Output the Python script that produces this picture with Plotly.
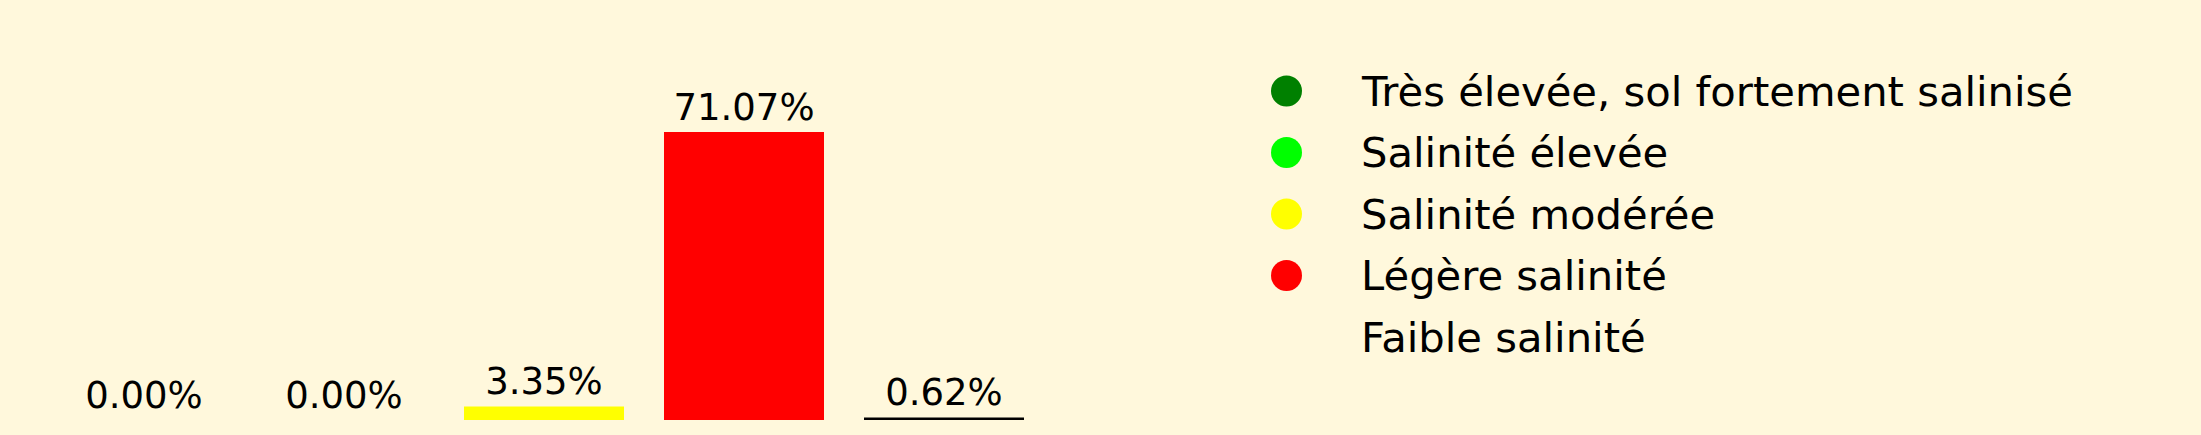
import plotly.graph_objects as go

# ---- data ----
categories = [
    "Très élevée, sol fortement salinisé",
    "Salinité élevée",
    "Salinité modérée",
    "Légère salinité",
    "Faible salinité",
]
values = [0.00, 0.00, 3.35, 71.07, 0.62]
bar_colors = ["#008000", "#00ff00", "#ffff00", "#ff0000", "#000000"]
legend_colors = ["#008000", "#00ff00", "#ffff00", "#ff0000", "rgba(0,0,0,0)"]

W, H = 2201, 435
BG = "#fff8dc"

fig = go.Figure()

fig.add_trace(go.Bar(
    x=categories,
    y=values,
    marker=dict(color=bar_colors, line=dict(width=0)),
    texttemplate="%{y:.2f}%",
    textposition="outside",
    textfont=dict(family="DejaVu Sans", size=37, color="black"),
    cliponaxis=False,
    showlegend=False,
    hoverinfo="skip",
))

# custom legend: markers on a pixel-mapped auxiliary axis
leg_x0 = 1286.5
leg_y0 = 91
leg_dy = 61.5
leg_y = [leg_y0 + i * leg_dy for i in range(len(categories))]
fig.add_trace(go.Scatter(
    x=[leg_x0] * len(categories),
    y=leg_y,
    mode="markers",
    marker=dict(size=31, color=legend_colors, line=dict(width=0)),
    xaxis="x2",
    yaxis="y2",
    showlegend=False,
    hoverinfo="skip",
    cliponaxis=False,
))

annotations = []
for name, yy in zip(categories, leg_y):
    annotations.append(dict(
        x=1359 / W, y=(H - yy) / H, xref="paper", yref="paper",
        xanchor="left", yanchor="middle", showarrow=False,
        text=name, font=dict(family="DejaVu Sans", size=41.7, color="black"),
    ))

px_per_unit = 288 / 71.07
fig.update_layout(
    width=W, height=H,
    margin=dict(l=0, r=0, t=0, b=0),
    paper_bgcolor=BG, plot_bgcolor="rgba(0,0,0,0)",
    bargap=0.2,
    xaxis=dict(domain=[44 / W, 1044 / W], range=[-0.5, 4.5], visible=False),
    yaxis=dict(domain=[15 / H, 1], range=[0, 420 / px_per_unit], visible=False),
    xaxis2=dict(domain=[0, 1], range=[0, W], visible=False, anchor="y2"),
    yaxis2=dict(domain=[0, 1], range=[H, 0], visible=False, anchor="x2"),
    annotations=annotations,
    font=dict(family="DejaVu Sans"),
)

fig.write_html("out.html", config={"displayModeBar": False},
               post_script="document.body.style.margin='0';")
